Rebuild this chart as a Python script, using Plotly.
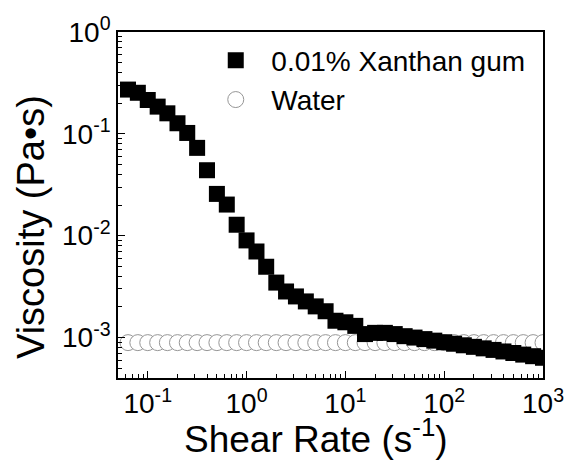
import plotly.graph_objects as go

# Shear rate grid (s^-1), 10 points per decade
shear_rate = [0.0631, 0.0794, 0.1, 0.126, 0.158, 0.2, 0.251, 0.316, 0.398, 0.501,
              0.631, 0.794, 1.0, 1.26, 1.58, 2.0, 2.51, 3.16, 3.98, 5.01,
              6.31, 7.94, 10.0, 12.6, 15.8, 20.0, 25.1, 31.6, 39.8, 50.1,
              63.1, 79.4, 100.0, 126.0, 158.0, 200.0, 251.0, 316.0, 398.0, 501.0,
              631.0, 794.0, 1000.0]

# Viscosity of 0.01% xanthan gum (Pa·s)
xanthan = [0.272, 0.253, 0.215, 0.185, 0.159, 0.127, 0.102, 0.0728, 0.0439, 0.0257,
           0.0202, 0.0128, 0.00898, 0.00699, 0.00495, 0.00346, 0.00283, 0.00253, 0.00226, 0.00202,
           0.00181, 0.00146, 0.00141, 0.00130, 0.00108, 0.00111, 0.00111, 0.00108, 0.00103, 0.000998,
           0.000964, 0.000931, 0.000898, 0.000868, 0.000838, 0.000809, 0.000782, 0.000755, 0.000729, 0.000704,
           0.000679, 0.000655, 0.000632]

# Viscosity of water (Pa·s)
water = [0.00089, 0.00089, 0.00089, 0.00089, 0.00089, 0.00089, 0.00089, 0.00089, 0.00089, 0.00089,
         0.00089, 0.00089, 0.00089, 0.00089, 0.00089, 0.00089, 0.00089, 0.00089, 0.00089, 0.00089,
         0.00089, 0.00089, 0.00089, 0.00089, 0.00089, 0.00089, 0.00089, 0.00089, 0.00089, 0.00089,
         0.00089, 0.00089, 0.00089, 0.00089, 0.00089, 0.00089, 0.00089, 0.00089, 0.00089, 0.00089,
         0.00089, 0.00089, 0.00089]

x_tickvals = [0.1, 1, 10, 100, 1000]
x_ticktext = ["10<sup>-1</sup>", "10<sup>0</sup>", "10<sup>1</sup>", "10<sup>2</sup>", "10<sup>3</sup>"]
y_tickvals = [1, 0.1, 0.01, 0.001]
y_ticktext = ["10<sup>0</sup>", "10<sup>-1</sup>", "10<sup>-2</sup>", "10<sup>-3</sup>"]

series_names = ["0.01% Xanthan gum", "Water"]
x_title = "Shear Rate (s<sup>-1</sup>)"
y_title = "Viscosity (Pa•s)"

FONT = "Liberation Sans, Arial, sans-serif"

x_minor = [m * 10 ** e for e in range(-2, 3) for m in range(2, 10)]
y_minor = [m * 10 ** e for e in range(-4, 0) for m in range(2, 10)]

fig = go.Figure()
fig.add_trace(go.Scatter(
    x=shear_rate, y=water, mode="markers", name="\u00a0\u00a0" + series_names[1],
    legendrank=2,
    marker=dict(symbol="circle", size=16, color="white",
                line=dict(color="#969696", width=1)),
))
fig.add_trace(go.Scatter(
    x=shear_rate, y=xanthan, mode="markers", name="\u00a0\u00a0" + series_names[0],
    legendrank=1,
    marker=dict(symbol="square", size=16, color="black", line=dict(width=0)),
))

axis_common = dict(
    type="log", showline=True, linecolor="black", linewidth=1.6, mirror=True,
    ticks="inside", ticklen=7, tickwidth=1.2, tickcolor="black",
    showgrid=False, zeroline=False,
    tickfont=dict(family=FONT, size=28, color="black"),
)

fig.update_xaxes(**axis_common, range=[-1.30103, 3], tickmode="array",
                 tickvals=x_tickvals, ticktext=x_ticktext,
                 minor=dict(tickmode="array", tickvals=x_minor, ticks="inside",
                            ticklen=4, tickwidth=1, tickcolor="black", showgrid=False))
fig.update_yaxes(**axis_common, range=[-3.39794, 0], tickmode="array",
                 tickvals=y_tickvals, ticktext=y_ticktext,
                 minor=dict(tickmode="array", tickvals=y_minor, ticks="inside",
                            ticklen=4, tickwidth=1, tickcolor="black", showgrid=False))

fig.update_layout(
    width=576, height=461,
    margin=dict(l=118, r=24, t=27, b=83),
    paper_bgcolor="white", plot_bgcolor="white",
    font=dict(family=FONT, color="black"),
    showlegend=True,
    legend=dict(x=0.23, y=0.99, xanchor="left", yanchor="top",
                bgcolor="rgba(0,0,0,0)", borderwidth=0,
                font=dict(family=FONT, size=28, color="black"),
                itemsizing="trace", tracegroupgap=0),
    annotations=[
        dict(text=x_title, xref="paper", yref="paper", x=0.4654, y=-0.242,
             xanchor="center", yanchor="bottom", showarrow=False,
             font=dict(family=FONT, size=37, color="black")),
        dict(text=y_title, xref="paper", yref="paper", x=-0.205, y=0.436,
             xanchor="center", yanchor="middle", showarrow=False, textangle=-90,
             font=dict(family=FONT, size=38, color="black")),
    ],
)

fig.write_html("out.html")
